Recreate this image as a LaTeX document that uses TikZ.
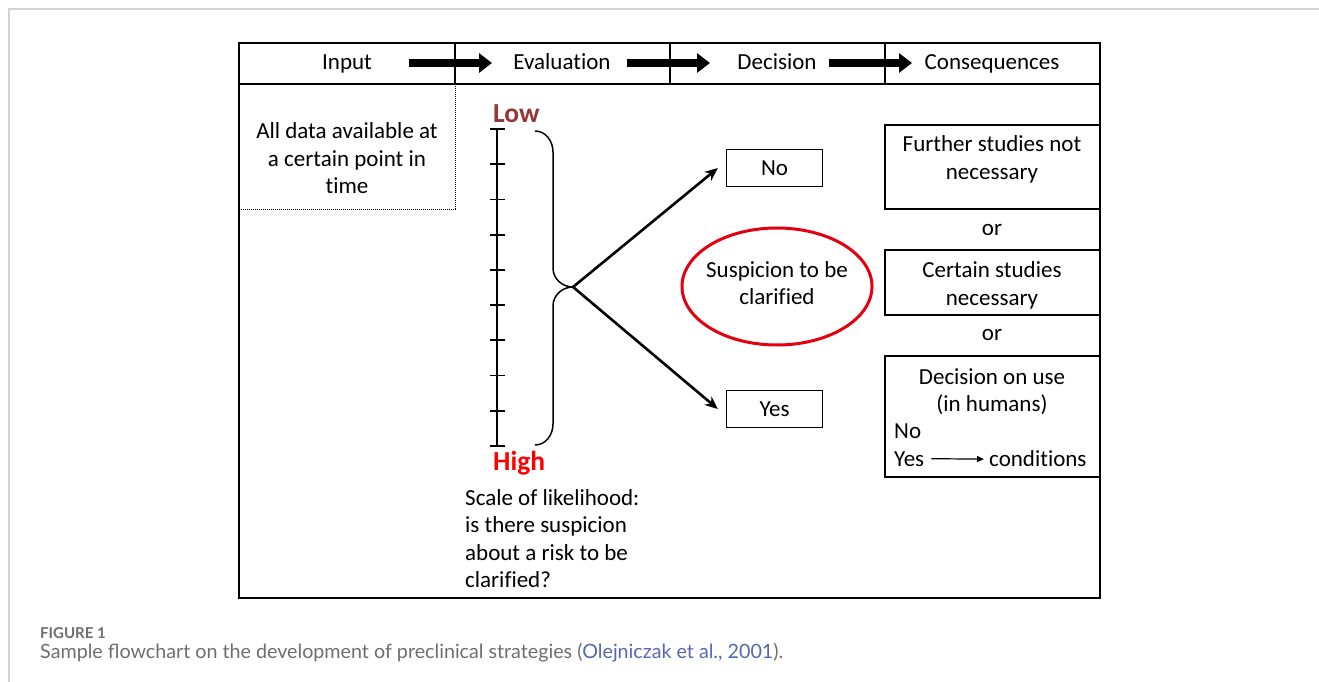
\documentclass[tikz,border=0pt]{standalone}
\usepackage{fontspec}
\setmainfont{Carlito}[Ligatures=NoCommon]
\newfontfamily\captionfont{Lato}
\usetikzlibrary{arrows.meta, positioning, shapes.geometric}
\definecolor{lowred}{HTML}{953735}
\definecolor{highred}{HTML}{FF0000}
\definecolor{ringred}{HTML}{E3000F}
\definecolor{capgray}{HTML}{6D6E71}
\definecolor{linkblue}{HTML}{5468B0}
\definecolor{framegray}{HTML}{D3D3D3}

\begin{document}
\begin{tikzpicture}
            [x=1pt, y=-1pt, >=Stealth,
            txt/.style={inner sep=0pt, align=center, font=\fontsize{23}{27.5}\selectfont},
            scaleword/.style={inner sep=0pt, anchor=base west, font=\fontsize{27.5}{30}\selectfont\bfseries},
            frame/.style={rectangle, draw=black, line width=1.3pt, inner sep=0pt},
            bigarrow/.style={-{Triangle[length=13pt,width=19pt]}, line width=8pt},
            choice/.style={-{Stealth[length=13pt,width=11pt]}, line width=2.6pt}]

            \useasboundingbox (0,0) rectangle (1319,682);
            % page frame
            \draw[framegray, line width=1.5pt] (9,682) -- (9,9) -- (1319,9);

            % table and header
            \draw[line width=1.8pt] (239,43) rectangle (1100,598);
            \draw[line width=1.3pt] (239,84) -- (1100,84);
            \foreach \x in {455,670,885}
                \draw[line width=1.3pt] (\x,43) -- (\x,84);
            \draw[line width=1pt, dash pattern=on 1pt off 1pt] (455,84) -- (455,209) -- (239,209);

            \node[txt, anchor=base] (input) at (347,70) {Input};
            \node[txt, anchor=base] (eval) at (562,70) {Evaluation};
            \node[txt, anchor=base] (decision) at (777,70) {Decision};
            \node[txt, anchor=base] (conseq) at (992,70) {Consequences};
            \foreach \x/\n in {409/a, 627/b, 829/c}
                \coordinate (head\n) at (\x,63);
            \draw[bigarrow] (heada) -- ++(83,0);
            \draw[bigarrow] (headb) -- ++(83,0);
            \draw[bigarrow] (headc) -- ++(83,0);

            % input column (multi-line nodes sit on their last baseline)
            \node[txt, anchor=base] (data) at (347,193.5) {All data available at\\a certain point in\\time};

            % scale of likelihood
            \node[scaleword, text=lowred] (low) at (493,123) {Low};
            \node[scaleword, text=highred] (high) at (493,470) {High};
            \draw[line width=1.6pt] (497,129) -- (497,446);
            \foreach \i in {0,...,9}
                \draw[line width=1.8pt] (490,{129+35.22*\i}) -- (505,{129+35.22*\i});
            \draw[line width=1.5pt] (535,131) to[out=0,in=90] (553,152) -- (553,268)
                to[out=-90,in=180] (573,287) to[out=180,in=90] (553,306) -- (553,424)
                to[out=-90,in=0] (535,445);
            \coordinate (tip) at (573,287);
            \node[txt, align=left, anchor=base west] (question) at (465,587.5)
                {Scale of likelihood:\\is there suspicion\\about a risk to be\\clarified?};

            % decision column
            \node[frame, minimum width=96pt, minimum height=37pt, txt] (no) at (774.5,168) {No};
            \node[frame, minimum width=96pt, minimum height=37pt, txt] (yes) at (774.5,409) {Yes};
            \draw[choice] (tip) -- ([xshift=-8pt]no.west);
            \draw[choice] (tip) -- ([xshift=-8pt]yes.west);
            \node[ellipse, draw=ringred, line width=3pt, minimum width=190pt, minimum height=117pt] (ring) at (777,286.5) {};
            \node[txt, anchor=base] (suspicion) at (777,304.5) {Suspicion to be\\clarified};

            % consequences column
            \node[frame, minimum width=215pt, minimum height=84pt] (further) at (992.5,167) {};
            \node[txt, anchor=base] at (992,179) {Further studies not\\necessary};
            \node[txt, anchor=base] (or1) at (992,235) {or};
            \node[frame, minimum width=215pt, minimum height=65pt] (certain) at (992.5,282.5) {};
            \node[txt, anchor=base] at (992,305) {Certain studies\\necessary};
            \node[txt, anchor=base] (or2) at (992,340) {or};
            \node[frame, minimum width=215pt, minimum height=121pt] (use) at (992.5,416.5) {};
            \node[txt, anchor=base] at (992,411.5) {Decision on use\\(in humans)};
            \node[txt, anchor=base west] (usno) at (894,438.5) {No};
            \node[txt, anchor=base west] (usyes) at (894,466) {Yes};
            \node[txt, anchor=base west] (cond) at (989,466) {conditions};
            \draw[-{Triangle[length=7pt,width=6pt]}, line width=1.2pt] ([xshift=7pt]usyes.east) -- ([xshift=-5pt,yshift=-1pt]cond.west);

            % caption
            \node[anchor=base west, inner sep=0pt, text=capgray, font=\captionfont\bfseries\fontsize{15}{18}\selectfont] (fig) at (40,638) {FIGURE 1};
            \node[anchor=base west, inner sep=0pt, text=capgray, font=\captionfont\fontsize{19.7}{23}\selectfont] (cap) at (40,658)
                {Sample flowchart on the development of preclinical strategies (\textcolor{linkblue}{Olejniczak et al., 2001}).};
        \end{tikzpicture}
\end{document}
